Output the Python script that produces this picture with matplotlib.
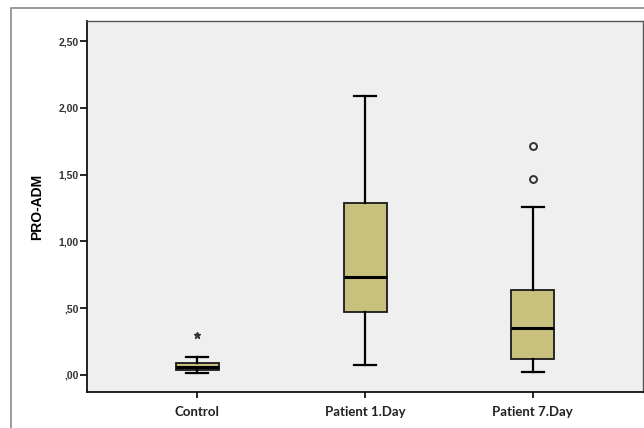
import matplotlib
matplotlib.use("Agg")
import matplotlib.pyplot as plt
from matplotlib import font_manager as fm
from matplotlib.patches import Rectangle

# values (PRO-ADM)
groups = ["Control", "Patient 1.Day", "Patient 7.Day"]
medians = [0.06, 0.734, 0.35]
q1s = [0.037, 0.468, 0.12]
q3s = [0.087, 1.29, 0.639]
whis_lo = [0.017, 0.075, 0.02]
whis_hi = [0.138, 2.085, 1.26]
extremes = [[0.30], [], []]          # starred points
outliers = [[], [], [1.716, 1.47]]   # circled points
yticks = [0.0, 0.5, 1.0, 1.5, 2.0, 2.5]
ytick_labels = [",00", ",50", "1,00", "1,50", "2,00", "2,50"]

# pick the regular-width Liberation Sans Bold file (avoid the Narrow variant)
bold_file = None
for f in fm.findSystemFonts():
    if f.endswith("LiberationSans-Bold.ttf"):
        bold_file = f
        break

def arial_b(size):
    if bold_file:
        return fm.FontProperties(fname=bold_file, size=size)
    return fm.FontProperties(family="DejaVu Sans", weight="bold", size=size)

fig = plt.figure(figsize=(6.44, 4.28), dpi=100)
fig.patches.append(Rectangle((0.017, -0.1), 1.2, 1.081, transform=fig.transFigure,
                             fill=False, edgecolor="#8a8a8a", lw=1.2))
ax = fig.add_axes([0.135, 0.084, 0.863, 0.867])
ax.set_facecolor("#efefef")

pos = [1, 2, 3]
stats = []
for g, m, a, b, lo, hi in zip(groups, medians, q1s, q3s, whis_lo, whis_hi):
    stats.append(dict(label=g, med=m, q1=a, q3=b, whislo=lo, whishi=hi, fliers=[]))

ax.bxp(stats, positions=pos, widths=0.256, capwidths=0.13, patch_artist=True,
       showfliers=False,
       boxprops=dict(facecolor="#c8c17d", edgecolor="#1a1a1a", lw=1.3),
       medianprops=dict(color="black", lw=2.2),
       whiskerprops=dict(color="black", lw=1.6),
       capprops=dict(color="black", lw=1.6))

for p, vals in zip(pos, extremes):
    if vals:
        ax.plot([p] * len(vals), vals, ls="none", marker="*", ms=5,
                color="#333333")
for p, vals in zip(pos, outliers):
    if vals:
        ax.plot([p] * len(vals), vals, ls="none", marker="o", ms=5,
                mfc="none", mec="#333333", mew=1.4)

ax.set_xlim(0.342, 3.655)
ax.set_ylim(-0.128, 2.65)
ax.set_yticks(yticks)
ax.set_yticklabels(ytick_labels, fontproperties=arial_b(7.5), color="#333333")
ax.set_xticks(pos)
ax.set_xticklabels(groups, fontsize=9.5, fontweight="bold", family="Lato",
                   color="#222222")
ax.tick_params(axis="y", direction="out", length=5, width=1.2, pad=1)
ax.tick_params(axis="x", direction="out", length=4, width=1.2, pad=6)
ax.set_ylabel("PRO-ADM", fontproperties=arial_b(10), labelpad=10)

for s in ["left", "bottom"]:
    ax.spines[s].set_color("#111111")
    ax.spines[s].set_linewidth(1.3)
for s in ["top", "right"]:
    ax.spines[s].set_color("#555555")
    ax.spines[s].set_linewidth(1.0)

fig.savefig("out.png", dpi=100)
